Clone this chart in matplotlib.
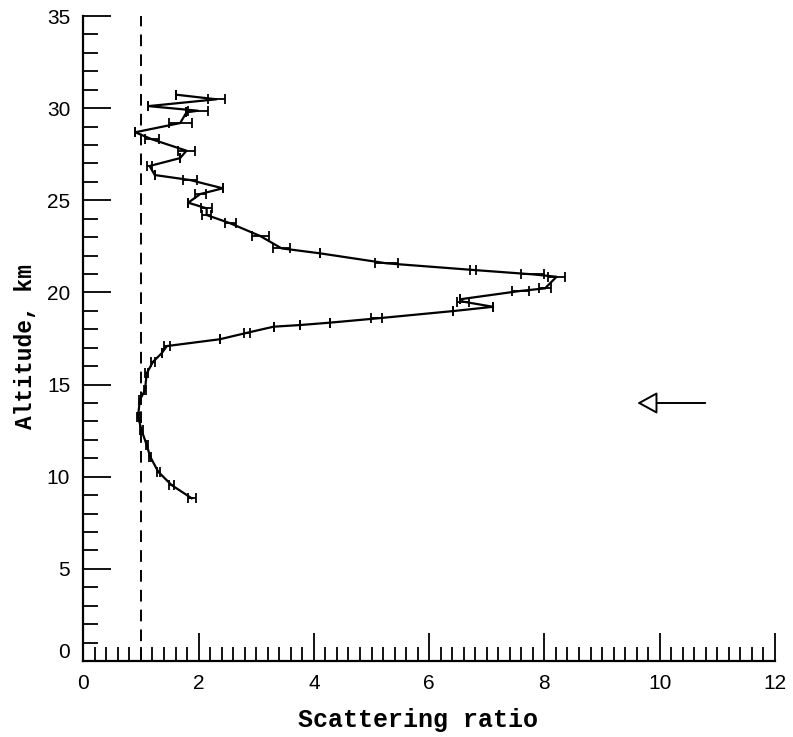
import matplotlib
matplotlib.use("Agg")
import matplotlib.pyplot as plt
import matplotlib.transforms as mtransforms
import numpy as np

# ---- data ----
altitude_km = [30.73, 30.48, 30.11, 29.86, 29.77, 29.19, 28.69, 28.31, 27.69, 27.29,
               26.86, 26.37, 26.10, 25.65, 25.34, 24.87, 24.56, 24.20, 23.75, 23.06,
               22.39, 22.12, 21.58, 21.22, 20.98, 20.85, 20.22, 20.08, 19.63, 19.50,
               19.22, 18.99, 18.59, 18.36, 18.23, 18.14, 17.81, 17.46, 17.09, 16.70,
               16.24, 15.61, 14.70, 14.16, 13.26, 12.53, 11.72, 11.09, 10.27, 9.55,
               8.83]
scattering_ratio = [1.61, 2.31, 1.13, 1.99, 1.79, 1.68, 0.90, 1.19, 1.79, 1.68,
                    1.15, 1.24, 1.85, 2.42, 2.03, 1.82, 2.14, 2.14, 2.55, 3.07,
                    3.44, 4.11, 5.26, 6.76, 7.80, 8.21, 8.01, 7.58, 6.54, 6.59,
                    7.11, 6.42, 5.09, 4.28, 3.76, 3.30, 2.84, 2.37, 1.45, 1.36,
                    1.21, 1.10, 1.07, 0.98, 0.95, 1.01, 1.10, 1.16, 1.30, 1.53,
                    1.88]
ratio_error = [0.00, 0.15, 0.00, 0.18, 0.00, 0.20, 0.00, 0.12, 0.14, 0.00,
               0.05, 0.00, 0.12, 0.00, 0.10, 0.00, 0.10, 0.08, 0.10, 0.15,
               0.15, 0.00, 0.20, 0.05, 0.20, 0.15, 0.10, 0.15, 0.00, 0.10,
               0.00, 0.00, 0.10, 0.00, 0.00, 0.00, 0.05, 0.00, 0.05, 0.00,
               0.03, 0.03, 0.02, 0.02, 0.02, 0.02, 0.02, 0.02, 0.03, 0.05,
               0.07]
reference_ratio = 1.0
arrow_altitude = 14.0
arrow_tail_x = 10.79
arrow_tip_x = 9.61

x_major = [0, 2, 4, 6, 8, 10, 12]
x_labels = ["0", "2", "4", "6", "8", "10", "12"]
y_major = [0, 5, 10, 15, 20, 25, 30, 35]
y_labels = ["", "5", "10", "15", "20", "25", "30", "35"]

# ---- figure ----
DPI = 100
fig = plt.figure(figsize=(7.93, 7.37), dpi=DPI)
ax = fig.add_axes([83.3 / 793, 76 / 737, 691.7 / 793, 645 / 737])

ax.set_xlim(0, 12)
ax.set_ylim(0, 35)

tick_font = dict(family=["Liberation Sans", "DejaVu Sans"], size=15)
label_font = ["Liberation Mono", "DejaVu Sans Mono"]

# dashed reference line
ax.axvline(reference_ratio, ymin=0, ymax=1, color="black", lw=1.4,
           dashes=(6.0, 4.2), zorder=2)

# profile with error bars
ax.errorbar(scattering_ratio, altitude_km, xerr=ratio_error, fmt="-",
            color="black", lw=1.6, elinewidth=1.3, capsize=3.3, capthick=1.3,
            zorder=3)

# arrow
ax.annotate("", xy=(arrow_tip_x, arrow_altitude),
            xytext=(arrow_tail_x, arrow_altitude),
            arrowprops=dict(arrowstyle="-|>,head_length=0.62,head_width=0.34",
                            mutation_scale=20, fc="white", ec="black",
                            lw=1.4, shrinkA=0, shrinkB=0))

# spines
for s in ["top", "right"]:
    ax.spines[s].set_visible(False)
for s in ["left", "bottom"]:
    ax.spines[s].set_linewidth(1.6)

ax.set_xticks(x_major)
ax.set_xticklabels(x_labels, fontdict=tick_font)
ax.set_xticks(np.arange(0, 12.01, 0.2), minor=True)
ax.set_yticks(y_major)
ax.set_yticklabels(y_labels, fontdict=tick_font)
ax.set_yticks(np.arange(0, 35.01, 1), minor=True)

ax.tick_params(axis="x", which="major", direction="in", length=20, width=1.3,
               pad=9.4)
ax.tick_params(axis="x", which="minor", direction="in", length=10, width=1.3)
ax.tick_params(axis="y", which="major", direction="in", length=20, width=1.3,
               pad=9.4)
ax.tick_params(axis="y", which="minor", direction="in", length=11, width=1.3)

# the "0" altitude label sits slightly above its tick in the original
label_shift = (mtransforms.ScaledTranslation(-9.4 / 72, 9 / DPI, fig.dpi_scale_trans))
ax.text(0, y_major[0], "0", transform=ax.get_yaxis_transform() + label_shift,
        ha="right", va="center", fontdict=tick_font)

ax.set_xlabel("Scattering ratio", family=label_font, size=18, weight="bold",
              va="center")
ax.xaxis.set_label_coords(0.484, -0.0915)
ax.set_ylabel("Altitude, km", family=label_font, size=16.5, weight="bold",
              va="center", ha="center")
ax.yaxis.set_label_coords(-0.084, 0.487)

fig.savefig("out.png", dpi=DPI)
